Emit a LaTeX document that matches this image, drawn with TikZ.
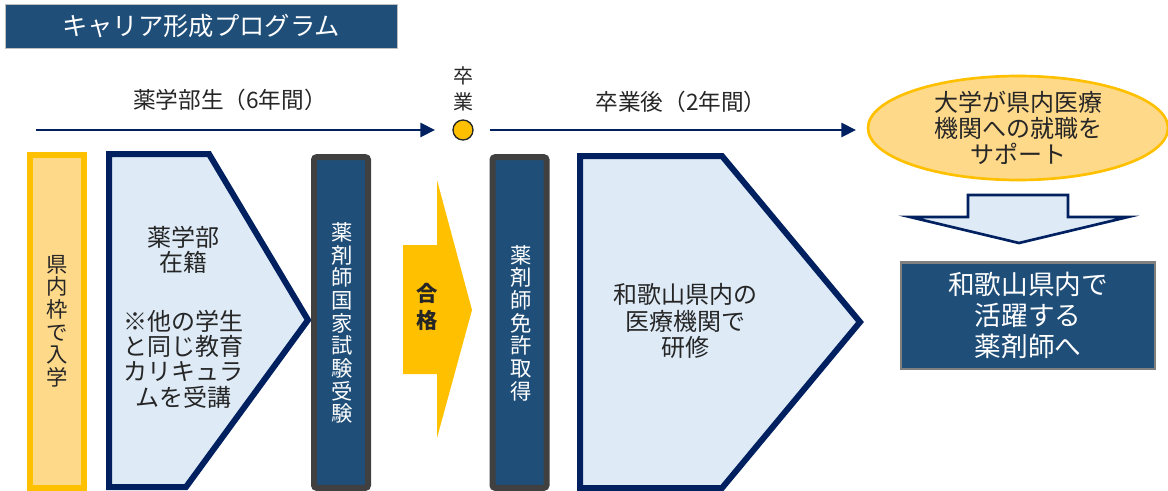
\documentclass[tikz,border=0pt]{standalone}
\usepackage{fontspec}
\setmainfont{Noto Sans CJK JP}
\usetikzlibrary{shapes.geometric,arrows.meta}
\definecolor{dblue}{HTML}{1F4E79}
\definecolor{navy}{HTML}{002060}
\definecolor{lblue}{HTML}{DEEBF7}
\definecolor{gold}{HTML}{FFC000}
\definecolor{lgold}{HTML}{FFD98A}
\definecolor{dgray}{HTML}{404040}
\definecolor{txt}{HTML}{262626}
\tikzset{
  lbl/.style={text=txt, font=\fontsize{17}{19}\selectfont, inner sep=0pt},
  darkbar/.style={draw=dgray, line width=4.5pt, fill=dblue, rounded corners=2pt, minimum width=40.5pt, minimum height=248pt, inner sep=0pt},
  entrybar/.style={draw=gold, line width=4.5pt, fill=lgold, minimum width=40.5pt, minimum height=250pt, inner sep=0pt},
  vtext/.style={align=center, font=\fontsize{16}{17}\selectfont, inner sep=0pt},
  pent/.style={draw=navy, line width=4.5pt, fill=lblue, line join=miter},
  bodytext/.style={align=center, text=txt, font=\fontsize{18}{19}\selectfont, inner sep=0pt},
  tl/.style={draw=navy, line width=2.2pt, -{Triangle[length=11pt,width=10.5pt]}},
}
\begin{document}
\begin{tikzpicture}[x=0.75pt,y=-0.75pt]
\useasboundingbox (0,0) rectangle (1168,490);
\clip (0,0) rectangle (1168,490);

% title
\node[fill=dblue, draw=gray!50, line width=0.6pt, minimum width=294pt, minimum height=33pt, text=white, font=\fontsize{19}{20}\selectfont] (title) at (201,26) {キャリア形成プログラム};

% timeline
\coordinate (start) at (36,130);
\node[lbl] (six) at (230,100) {薬学部生（6年間）};
\node[circle, fill=gold, draw=txt, line width=1pt, minimum size=15pt, inner sep=0pt] (grad) at (463,130) {};
\node[lbl, align=center, font=\fontsize{15}{20}\selectfont] (gradlbl) at (463,89) {卒\\業};
\node[lbl] (two) at (681,102) {卒業後（2年間）};
\node[ellipse, fill=lgold, draw=gold, line width=2pt, minimum width=225pt, minimum height=78pt, inner sep=0pt] (support) at (1018,128) {};
\node[bodytext, font=\fontsize{18}{19.5}\selectfont] (supporttxt) at (1018,128) {大学が県内医療\\機関への就職を\\サポート};
\draw[tl, shorten >=13pt] (start) -- (grad);
\draw[tl, shorten <=12pt, shorten >=8pt] (grad) -- (grad -| support.west);

% entry bar
\node[entrybar] (entry) at (57,321.5) {};
\node[vtext, text=txt] (entrytxt) at (57,321) {県\\内\\枠\\で\\入\\学};

% pentagon 1
\draw[pent] (109,154) -- (209,154) -- (308,320) -- (186,487) -- (109,487) -- cycle;
\node[bodytext] (studytop) at (183,250) {薬学部\\在籍};
\node[bodytext] (studybot) at (183,359) {※他の学生\\と同じ教育\\カリキュラ\\ムを受講};

% exam bar
\node[darkbar] (exam) at (341,322.5) {};
\node[vtext, text=white] (examtxt) at (342,323) {薬\\剤\\師\\国\\家\\試\\験\\受\\験};

% pass arrow
\draw[fill=gold, draw=none] (403,245) -- (437,245) -- (437,180) -- (472,310) -- (437,438) -- (437,374) -- (403,374) -- cycle;
\node[vtext, text=txt, font=\bfseries\fontsize{16}{20}\selectfont] (pass) at (427,307) {合\\格};

% license bar
\node[darkbar] (license) at (519.5,322.5) {};
\node[vtext, text=white] (licensetxt) at (521,323) {薬\\剤\\師\\免\\許\\取\\得};

% pentagon 2
\draw[pent] (580,156) -- (722,156) -- (860,322) -- (722,488) -- (580,488) -- cycle;
\node[bodytext, font=\fontsize{18}{20}\selectfont] (train) at (685,321) {和歌山県内の\\医療機関で\\研修};

% down arrow
\draw[draw=navy, line width=2pt, fill=lblue, line join=miter] (968,195) -- (1068,195) -- (1068,217) -- (1128,217) -- (1019,243) -- (910,217) -- (968,217) -- cycle;

% goal box
\node[fill=dblue, draw=gray, line width=2pt, minimum width=190.5pt, minimum height=80pt, align=center, text=white, font=\fontsize{20}{23}\selectfont] (goal) at (1028,315.5) {和歌山県内で\\活躍する\\薬剤師へ};
\end{tikzpicture}
\end{document}
